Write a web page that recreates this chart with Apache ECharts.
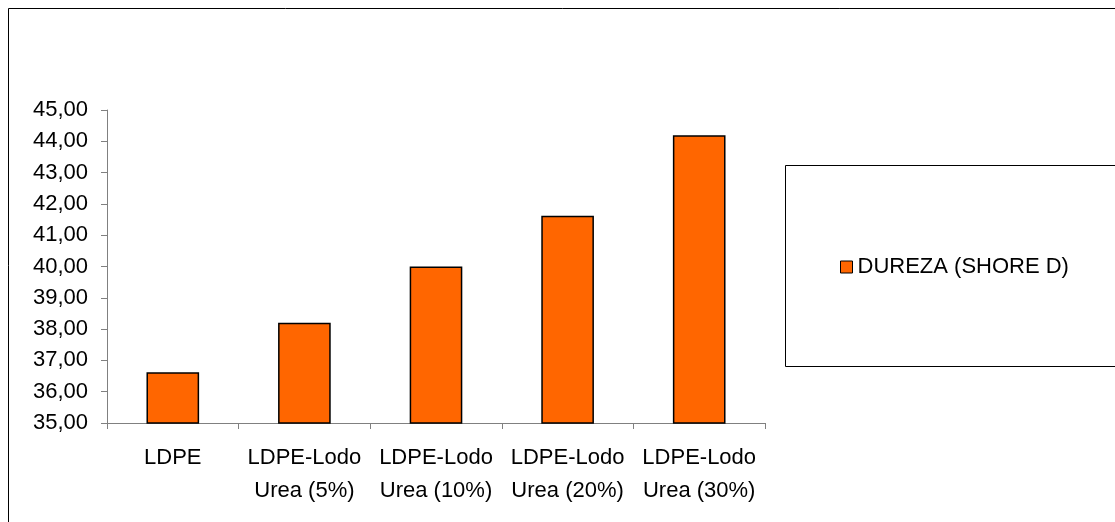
<!DOCTYPE html>
<html>
<head>
<meta charset="utf-8">
<script src="https://cdn.jsdelivr.net/npm/echarts@6/dist/echarts.min.js"></script>
<style>html,body{margin:0;padding:0;background:#fff}#c{width:1115px;height:522px}</style>
</head>
<body>
<div id="c"></div>
<script>
var categories = ['LDPE', 'LDPE-Lodo\nUrea (5%)', 'LDPE-Lodo\nUrea (10%)', 'LDPE-Lodo\nUrea (20%)', 'LDPE-Lodo\nUrea (30%)'];
var dureza = [36.62, 38.20, 40.00, 41.62, 44.19];
var seriesName = 'DUREZA (SHORE D)';
var yMin = 35, yMax = 45, yStep = 1;

var chart = echarts.init(document.getElementById('c'), null, {renderer: 'canvas'});
var font = 'Liberation Sans, Arial, sans-serif';
chart.setOption({
  animation: false,
  backgroundColor: '#fff',
  graphic: [
    {type: 'rect', shape: {x: 8.5, y: 8.5, width: 1200, height: 600}, style: {fill: 'none', stroke: '#000', lineWidth: 1}, silent: true, z: -10},
    {type: 'rect', shape: {x: 785.5, y: 165.5, width: 400, height: 201}, style: {fill: '#fff', stroke: '#000', lineWidth: 1}, silent: true, z: -5}
  ],
  legend: {
    left: 835, top: 251,
    itemWidth: 12, itemHeight: 12, itemGap: 5,
    icon: 'rect',
    textStyle: {fontFamily: font, fontSize: 22, color: '#000'},
    data: [{name: seriesName, itemStyle: {borderColor: '#000', borderWidth: 1}}]
  },
  grid: {left: 107, right: 350, top: 110, bottom: 99, containLabel: false},
  xAxis: {
    type: 'category',
    data: categories,
    boundaryGap: true,
    axisLine: {lineStyle: {color: '#808080', width: 1}},
    axisTick: {show: true, alignWithLabel: false, length: 6, lineStyle: {color: '#808080'}},
    axisLabel: {fontFamily: font, fontSize: 22, color: '#000', margin: 18, lineHeight: 33, interval: 0}
  },
  yAxis: {
    type: 'value',
    min: yMin, max: yMax, interval: yStep,
    axisLine: {show: true, lineStyle: {color: '#808080', width: 1}},
    axisTick: {show: true, length: 6, lineStyle: {color: '#808080'}},
    splitLine: {show: false},
    axisLabel: {fontFamily: font, fontSize: 22, color: '#000', margin: 19,
      formatter: function (v) { return v.toFixed(2).replace('.', ','); }}
  },
  series: [{
    name: seriesName,
    type: 'bar',
    data: dureza,
    barWidth: '40%',
    itemStyle: {color: '#FF6600', borderColor: '#000', borderWidth: 1.5}
  }]
});
</script>
</body>
</html>
